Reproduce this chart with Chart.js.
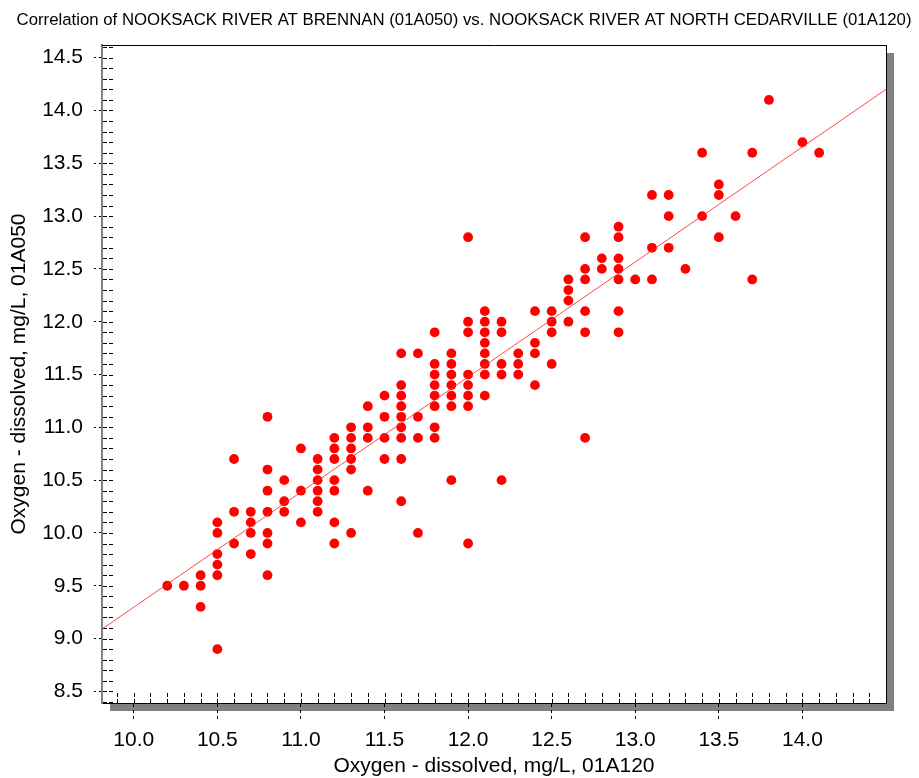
<!DOCTYPE html>
<html><head><meta charset="utf-8">
<script src="https://cdn.jsdelivr.net/npm/chart.js@4/dist/chart.umd.min.js"></script>
<style>html,body{margin:0;padding:0;background:#fff;}#wrap{width:919px;height:778px;}</style>
</head><body><div id="wrap"><canvas id="c" width="919" height="778"></canvas></div>
<script>
const chartTitle = 'Correlation of NOOKSACK RIVER AT BRENNAN (01A050) vs. NOOKSACK RIVER AT NORTH CEDARVILLE (01A120)';
const xAxisTitle = 'Oxygen - dissolved, mg/L, 01A120';
const yAxisTitle = 'Oxygen - dissolved, mg/L, 01A050';
const xTickValues = [10.0, 10.5, 11.0, 11.5, 12.0, 12.5, 13.0, 13.5, 14.0];
const xTickLabels = ['10.0', '10.5', '11.0', '11.5', '12.0', '12.5', '13.0', '13.5', '14.0'];
const yTickValues = [8.5, 9.0, 9.5, 10.0, 10.5, 11.0, 11.5, 12.0, 12.5, 13.0, 13.5, 14.0, 14.5];
const yTickLabels = ['8.5', '9.0', '9.5', '10.0', '10.5', '11.0', '11.5', '12.0', '12.5', '13.0', '13.5', '14.0', '14.5'];

// Oxygen at North Cedarville (01A120), one entry per sample
const xNorthCedarville = [
  10.2,
  10.3,
  10.4, 10.4, 10.4,
  10.5, 10.5, 10.5, 10.5, 10.5, 10.5,
  10.6, 10.6, 10.6,
  10.7, 10.7, 10.7, 10.7,
  10.8, 10.8, 10.8, 10.8, 10.8, 10.8, 10.8,
  10.9, 10.9, 10.9,
  11.0, 11.0, 11.0,
  11.1, 11.1, 11.1, 11.1, 11.1, 11.1,
  11.2, 11.2, 11.2, 11.2, 11.2, 11.2, 11.2,
  11.3, 11.3, 11.3, 11.3, 11.3, 11.3,
  11.4, 11.4, 11.4, 11.4,
  11.5, 11.5, 11.5, 11.5,
  11.6, 11.6, 11.6, 11.6, 11.6, 11.6, 11.6, 11.6, 11.6,
  11.7, 11.7, 11.7, 11.7,
  11.8, 11.8, 11.8, 11.8, 11.8, 11.8, 11.8, 11.8,
  11.9, 11.9, 11.9, 11.9, 11.9, 11.9, 11.9,
  12.0, 12.0, 12.0, 12.0, 12.0, 12.0, 12.0, 12.0,
  12.1, 12.1, 12.1, 12.1, 12.1, 12.1, 12.1, 12.1,
  12.2, 12.2, 12.2, 12.2, 12.2,
  12.3, 12.3, 12.3,
  12.4, 12.4, 12.4, 12.4,
  12.5, 12.5, 12.5, 12.5,
  12.6, 12.6, 12.6, 12.6,
  12.7, 12.7, 12.7, 12.7, 12.7, 12.7,
  12.8, 12.8,
  12.9, 12.9, 12.9, 12.9, 12.9, 12.9, 12.9,
  13.0,
  13.1, 13.1, 13.1,
  13.2, 13.2, 13.2,
  13.3,
  13.4, 13.4,
  13.5, 13.5, 13.5,
  13.6,
  13.7, 13.7,
  13.8,
  14.0,
  14.1
];
// Oxygen at Brennan (01A050), same order
const yBrennan = [
  9.5,
  9.5,
  9.6, 9.5, 9.3,
  10.1, 10.0, 9.8, 9.7, 9.6, 8.9,
  10.7, 10.2, 9.9,
  10.2, 10.1, 10.0, 9.8,
  11.1, 10.6, 10.4, 10.2, 10.0, 9.9, 9.6,
  10.5, 10.3, 10.2,
  10.8, 10.4, 10.1,
  10.7, 10.6, 10.5, 10.4, 10.3, 10.2,
  10.9, 10.8, 10.7, 10.5, 10.4, 10.1, 9.9,
  11.0, 10.9, 10.8, 10.7, 10.6, 10.0,
  11.2, 11.0, 10.9, 10.4,
  11.3, 11.1, 10.9, 10.7,
  11.7, 11.4, 11.3, 11.2, 11.1, 11.0, 10.9, 10.7, 10.3,
  11.7, 11.1, 10.9, 10.0,
  11.9, 11.6, 11.5, 11.4, 11.3, 11.2, 11.0, 10.9,
  11.7, 11.6, 11.5, 11.4, 11.3, 11.2, 10.5,
  12.8, 12.0, 11.9, 11.5, 11.4, 11.3, 11.2, 9.9,
  12.1, 12.0, 11.9, 11.8, 11.7, 11.6, 11.5, 11.3,
  12.0, 11.9, 11.6, 11.5, 10.5,
  11.7, 11.6, 11.5,
  12.1, 11.8, 11.7, 11.4,
  12.1, 12.0, 11.9, 11.6,
  12.4, 12.3, 12.2, 12.0,
  12.8, 12.5, 12.4, 12.1, 11.9, 10.9,
  12.6, 12.5,
  12.9, 12.8, 12.6, 12.5, 12.4, 12.1, 11.9,
  12.4,
  13.2, 12.7, 12.4,
  13.2, 13.0, 12.7,
  12.5,
  13.6, 13.0,
  13.3, 13.2, 12.8,
  13.0,
  13.6, 12.4,
  14.1,
  13.7,
  13.6
];
// Fitted line end points
const fitLineX = [9.81, 14.5];
const fitLineY = [9.09, 14.20];

const FONT = "'Liberation Sans', Arial, sans-serif";
Chart.defaults.font.family = FONT;
Chart.defaults.color = '#000';

const shadowFrame = {
  id: 'shadowFrame',
  beforeDraw(chart) {
    const {ctx, chartArea: a} = chart;
    ctx.save();
    ctx.fillStyle = '#808080';
    ctx.fillRect(a.left + 8, a.top + 8, a.right - a.left, a.bottom - a.top);
    ctx.fillStyle = '#ffffff';
    ctx.fillRect(a.left, a.top, a.right - a.left, a.bottom - a.top);
    ctx.restore();
  }
};

const innerTicks = {
  id: 'innerTicks',
  beforeDatasetsDraw(chart) {
    const {ctx, chartArea: a, scales} = chart;
    const xs = scales.x, ys = scales.y;
    ctx.save();
    ctx.strokeStyle = '#000';
    ctx.lineWidth = 1;
    ctx.setLineDash([4, 2]);
    for (let k = Math.ceil(xs.min * 10); k <= Math.floor(xs.max * 10 + 1e-9); k++) {
      const px = Math.round(xs.getPixelForValue(k / 10)) + 0.5;
      ctx.beginPath();
      ctx.moveTo(px, a.bottom);
      ctx.lineTo(px, a.bottom - 11);
      ctx.stroke();
    }
    for (let k = Math.ceil(ys.min * 10); k <= Math.floor(ys.max * 10 + 1e-9); k++) {
      const py = Math.round(ys.getPixelForValue(k / 10)) + 0.5;
      ctx.beginPath();
      ctx.moveTo(a.left + 1, py);
      ctx.lineTo(a.left + 11, py);
      ctx.stroke();
    }
    ctx.restore();
  }
};

new Chart(document.getElementById('c'), {
  data: {
    datasets: [
      {
        type: 'line',
        data: fitLineX.map((x, i) => ({x: x, y: fitLineY[i]})),
        borderColor: 'rgba(255,40,40,0.85)',
        borderWidth: 1,
        pointRadius: 0,
        fill: false,
        order: 0
      },
      {
        type: 'scatter',
        data: xNorthCedarville.map((x, i) => ({x: x, y: yBrennan[i]})),
        backgroundColor: '#ff0000',
        borderWidth: 0,
        pointRadius: 4.9,
        pointHoverRadius: 4.9,
        order: 1
      }
    ]
  },
  options: {
    responsive: false,
    devicePixelRatio: 1,
    animation: false,
    events: [],
    layout: {padding: {left: 9, right: 0, top: 0, bottom: 0}},
    plugins: {
      legend: {display: false},
      tooltip: {enabled: false},
      title: {
        display: true,
        text: chartTitle,
        color: '#000',
        font: {family: FONT, size: 16.8, weight: 'normal', lineHeight: 1.2},
        padding: {top: 10, bottom: 14.84}
      }
    },
    scales: {
      x: {
        type: 'linear',
        position: 'bottom',
        min: 9.81,
        max: 14.5,
        afterBuildTicks: s => { s.ticks = xTickValues.map(v => ({value: v})); },
        afterFit: s => { s.height = 75; },
        ticks: {
          callback: v => xTickLabels[xTickValues.indexOf(v)],
          font: {size: 21},
          color: '#000',
          padding: 6,
          maxRotation: 0,
          autoSkip: false
        },
        grid: {drawOnChartArea: false, drawTicks: true, tickLength: 19, tickColor: '#000', tickWidth: 1, tickBorderDash: [3, 3]},
        border: {display: true, color: '#000', width: 1},
        title: {display: true, text: xAxisTitle, color: '#000', font: {size: 21, lineHeight: 1}, padding: {top: 0, bottom: 1.5}}
      },
      y: {
        type: 'linear',
        position: 'left',
        min: 8.39,
        max: 14.62,
        afterBuildTicks: s => { s.ticks = yTickValues.map(v => ({value: v})); },
        afterFit: s => { s.width = 93; },
        ticks: {
          callback: v => yTickLabels[yTickValues.indexOf(v)],
          font: {size: 21},
          color: '#000',
          padding: 11,
          autoSkip: false
        },
        grid: {drawOnChartArea: false, drawTicks: true, tickLength: 8, tickColor: '#000', tickWidth: 1, tickBorderDash: [2, 3]},
        border: {display: true, color: '#808080', width: 2},
        title: {display: true, text: yAxisTitle, color: '#000', font: {size: 21, lineHeight: 1}, padding: 0}
      },
      x2: {
        type: 'linear',
        position: 'top',
        min: 9.81,
        max: 14.5,
        afterFit: s => { s.height = 0; },
        ticks: {display: false},
        grid: {display: false, drawTicks: false},
        border: {display: true, color: '#000', width: 1}
      },
      y2: {
        type: 'linear',
        position: 'right',
        min: 8.39,
        max: 14.62,
        afterFit: s => { s.width = 33; },
        ticks: {display: false},
        grid: {display: false, drawTicks: false},
        border: {display: true, color: '#000', width: 1}
      }
    }
  },
  plugins: [shadowFrame, innerTicks]
});
</script>
</body></html>
